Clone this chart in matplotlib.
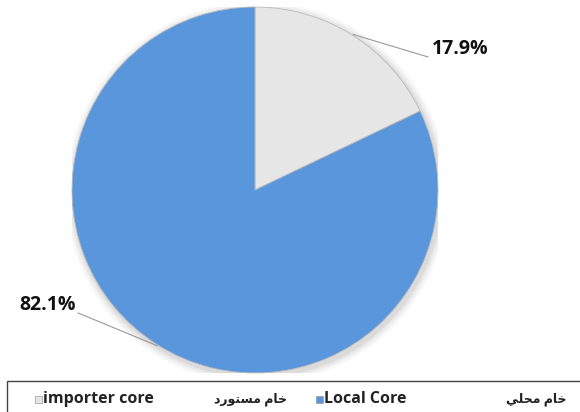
import numpy as np
import matplotlib.pyplot as plt
from matplotlib.patches import Rectangle, Circle

# data
labels = ['importer core', 'Local Core']
labels_ar = ['\uFEA9\uFEAD\uFEEE\uFE98\uFEB4\uFEE3 \uFEE1\uFE8E\uFEA7',   # خام مستورد
             '\uFEF2\uFEE0\uFEA4\uFEE3 \uFEE1\uFE8E\uFEA7']                 # خام محلي
values = [17.9, 82.1]
colors = ['#E6E6E6', '#5A96DC']

plt.rcParams['font.family'] = ['Open Sans', 'DejaVu Sans']

W, H = 580, 412
fig = plt.figure(figsize=(W / 100, H / 100), dpi=100)

cx, cy, r = 255, 190, 183
ax = fig.add_axes([(cx - r) / W, (H - cy - r) / H, 2 * r / W, 2 * r / H])

# soft shadow
for k, a in enumerate([0.05, 0.04, 0.03, 0.02]):
    ax.add_patch(Circle((0.01, -0.015), 1.0 + 0.012 * (k + 1), color='#000000',
                        alpha=a, lw=0, zorder=0))

wedges, _ = ax.pie(values, colors=colors, startangle=90, counterclock=False,
                   radius=1.0, wedgeprops=dict(linewidth=0.6, edgecolor='#BBBBBB'),
                   frame=True)
ax.set_xlim(-1, 1)
ax.set_ylim(-1, 1)
ax.axis('off')

# labels with leader lines
for w, v in zip(wedges, values):
    ang = np.deg2rad((w.theta1 + w.theta2) / 2)
    x0, y0 = np.cos(ang) * 1.005, np.sin(ang) * 1.005
    if x0 > 0:
        x1, y1 = 0.945, 0.727
        tx, ha = x1 + 0.02, 'left'
    else:
        x1, y1 = -0.967, -0.672
        tx, ha = x1 - 0.01, 'right'
    ax.plot([x0, x1], [y0, y1], color='#999999', lw=0.8, clip_on=False)
    ax.text(tx, y1 + 0.045, f'{v}%', ha=ha, va='center', fontsize=14,
            fontweight='bold', color='#111111', clip_on=False)

# legend box
fig.patches.append(Rectangle((7 / W, -0.05), 1.0, (H - 381) / H + 0.05,
                             transform=fig.transFigure, fill=False,
                             edgecolor='#444444', lw=1.0))
ly = 1 - 399 / H
items = [(35, labels[0], colors[0]), (316, labels[1], colors[1])]
for x, t, c in items:
    fig.patches.append(Rectangle((x / W, ly - 3.5 / H), 7 / W, 7 / H,
                                 transform=fig.transFigure, facecolor=c,
                                 edgecolor='#999999', lw=0.5))
    fig.text((x + 8) / W, ly, t, ha='left', va='center', fontsize=11.5,
             fontweight='bold', color='#222222')
fig.text(287 / W, ly, labels_ar[0], ha='right', va='center', fontsize=9,
         fontweight='bold', color='#222222')
fig.text(566 / W, ly, labels_ar[1], ha='right', va='center', fontsize=9,
         fontweight='bold', color='#222222')

fig.savefig('out.png', dpi=100)
